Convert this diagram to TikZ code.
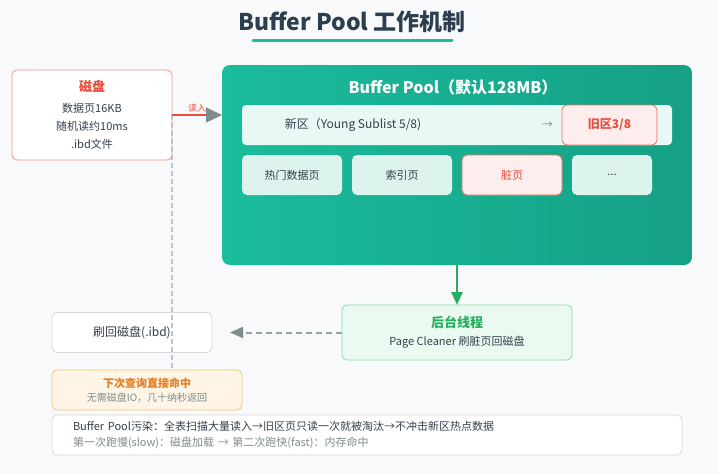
\documentclass[tikz,border=0pt]{standalone}
\usepackage{fontspec}
\setmainfont{Noto Sans CJK SC}
\usetikzlibrary{arrows.meta,positioning}
\definecolor{pagebg}{HTML}{F8F9FA}
\definecolor{titlec}{HTML}{2C3E50}
\definecolor{inkc}{HTML}{34404C}
\definecolor{tealc}{HTML}{1ABC9C}
\definecolor{tealdk}{HTML}{16A085}
\definecolor{youngc}{HTML}{E8F8F5}
\definecolor{pagec}{HTML}{DCF3EE}
\definecolor{oldc}{HTML}{FDEDEC}
\definecolor{oldb}{HTML}{EC7063}
\definecolor{redc}{HTML}{E74C3C}
\definecolor{diskb}{HTML}{F1948A}
\definecolor{greenc}{HTML}{EAFAF1}
\definecolor{greenb}{HTML}{82E0AA}
\definecolor{greentx}{HTML}{27AE60}
\definecolor{orangec}{HTML}{FEF5E7}
\definecolor{orangeb}{HTML}{F8C471}
\definecolor{orangetx}{HTML}{E67E22}
\definecolor{greyc}{HTML}{7F8C8D}
\definecolor{lineg}{HTML}{D5D8DC}
\definecolor{dashg}{HTML}{95A5A6}
\definecolor{vlineg}{HTML}{BDC3C7}

\begin{document}
\begin{tikzpicture}[x=1pt, y=-1pt, font=\fontsize{11}{14}\selectfont, text=inkc, node distance=10pt]
\tikzstyle{blk}=[rounded corners=5pt, align=center, inner sep=0pt, outer sep=0pt, line width=0.8pt]
\tikzstyle{pg}=[blk, fill=pagec, minimum width=100pt, minimum height=40pt]
\tikzstyle{hotpg}=[pg, draw=oldb, fill=oldc, text=redc]
\fill[pagebg] (0,0) rectangle (718,474);
\node[font=\fontsize{23}{27}\selectfont\bfseries, text=titlec] (title) at (352,22) {Buffer Pool 工作机制};
\draw[tealc, line width=3pt, line cap=round] (253,40) -- (452,40);
\node[blk, draw=diskb, fill=white, minimum width=160pt, minimum height=90pt, font=\fontsize{11}{18}\selectfont] (disk) at (92,115) {{\fontsize{13}{16}\selectfont\bfseries\color{redc}磁盘}\\[3pt]数据页16KB\\随机读约10ms\\.ibd文件};
\node[blk, rounded corners=8pt, shading=axis, shading angle=60, left color=tealc, right color=tealdk, minimum width=470pt, minimum height=200pt] (bp) at (457,165) {};
\node[font=\fontsize{16}{19}\selectfont\bfseries, text=white] (bptitle) at (453,87) {Buffer Pool（默认128MB）};
\node[blk, fill=youngc, rounded corners=4pt, minimum width=430pt, minimum height=40pt] (young) at (457,125) {};
\node[font=\fontsize{12}{14}\selectfont] (younglbl) at (353,125) {新区（Young Sublist 5/8)};
\node[hotpg, minimum width=95pt, font=\fontsize{12}{14}\selectfont\bfseries] (old) at (609.5,125) {旧区3/8};
\node[left=9pt of old, inner sep=0pt, text=greyc] (shift) {→};
\node[pg] (hot) at (292,175) {热门数据页};
\node[pg, right=of hot] (idx) {索引页};
\node[hotpg, right=of idx] (dirty) {脏页};
\node[pg, minimum width=80pt, right=of dirty] (more) {...};
\node[blk, draw=greenb, fill=greenc, minimum width=230pt, minimum height=55pt, below=40pt of bp] (bg) {{\fontsize{13}{16}\selectfont\bfseries\color{greentx}后台线程}\\[4pt]{\fontsize{11}{13}\selectfont Page Cleaner 刷脏页回磁盘}};
\node[blk, draw=lineg, fill=white, minimum width=160pt, minimum height=40pt, font=\fontsize{12}{14}\selectfont] (flush) at (132,332.5) {刷回磁盘(.ibd)};
\draw[vlineg, line width=2pt, dash pattern=on 5pt off 3pt] (disk.east) -- (172,370);
\node[blk, draw=orangeb, fill=orangec, minimum width=190pt, minimum height=40pt] (hit) at (147,390) {{\bfseries\color{orangetx}下次查询直接命中}\\{\fontsize{10}{12}\selectfont\color{greyc}无需磁盘IO，几十纳秒返回}};
\node[blk, draw=lineg, fill=white, minimum width=630pt, minimum height=40pt, text width=588pt, align=left, font=\fontsize{11}{16}\selectfont] (note) at (367,435) {Buffer Pool污染：全表扫描大量读入→旧区页只读一次就被淘汰→不冲击新区热点数据\\{\color{greyc}第一次跑慢(slow)：磁盘加载 → 第二次跑快(fast)：内存命中}};
\draw[redc, line width=1.5pt, -{Triangle[length=16pt, width=15pt, color=greyc]}] (disk.east) -- (disk.east -| bp.west) node[midway, above, inner sep=2pt, text=redc, font=\fontsize{9}{10}\selectfont] (readlbl) {读入};
\draw[greentx, line width=2.5pt, -{Triangle[length=13pt, width=11pt]}] (bp.south) -- (bg.north);
\draw[dashg, line width=2pt, dash pattern=on 6pt off 4pt, -{Triangle[length=13pt, width=11pt, color=greyc]}] (bg.west) -- ([xshift=18pt]flush.east);
\end{tikzpicture}
\end{document}
